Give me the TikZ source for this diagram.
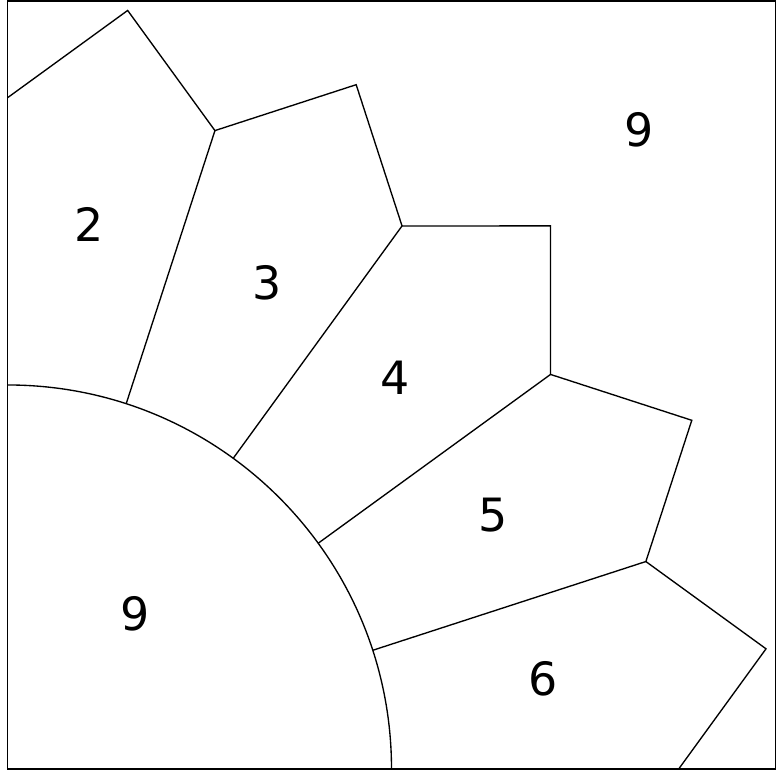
\documentclass[tikz,border=0pt]{standalone}
\usepackage{fontspec}
\setmainfont{DejaVu Sans}

\begin{document}
\begin{tikzpicture}[line width=0.5pt, rotulo/.style={font=\fontsize{17}{20}\selectfont}]
    \useasboundingbox (-0.098,-0.026) rectangle (10.085,10.013);

    % Moldura
    \draw[line width=0.7pt] (0,0) rectangle (10,10);

    % Circulo interno
    \draw (0,5) arc (90:0:5);

    % Contorno externo (zigue-zague)
    \draw (90:8.74)
        \foreach \a/\b in {81/72, 63/54, 45/36, 27/18, 9/0} { -- (\a:10) -- (\b:8.74) };

    % Raios ate o circulo
    \foreach \b in {72, 54, 36, 18}
        \draw (\b:5) -- (\b:8.74);

    % Rotulos das regioes
    \foreach \n/\x/\y in {2/1.06/7.09, 3/3.38/6.33, 4/5.05/5.09, 5/6.32/3.31, 6/6.98/1.17}
        \node[rotulo] (reg\n) at (\x,\y) {\n};
    \node[rotulo] (fora) at (8.22, 8.32) {9};
    \node[rotulo] (dentro) at (1.66, 2.02) {9};
\end{tikzpicture}
\end{document}
